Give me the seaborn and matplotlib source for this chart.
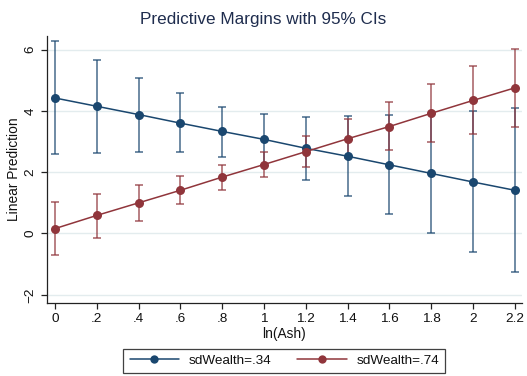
import numpy as np
import pandas as pd
import matplotlib
matplotlib.use("Agg")
import matplotlib.pyplot as plt
import seaborn as sns
from matplotlib.lines import Line2D

# ln(Ash) grid at which predictive margins were evaluated
ash = [0.0, 0.2, 0.4, 0.6, 0.8, 1.0, 1.2, 1.4, 1.6, 1.8, 2.0, 2.2]
ash_labels = ["0", ".2", ".4", ".6", ".8", "1", "1.2", "1.4", "1.6", "1.8", "2", "2.2"]

# sdWealth = .34
low_margin = [4.42, 4.15, 3.88, 3.60, 3.33, 3.07, 2.78, 2.52, 2.24, 1.96, 1.68, 1.41]
low_ci_lo = [2.58, 2.64, 2.67, 2.65, 2.51, 2.24, 1.76, 1.21, 0.62, 0.01, -0.62, -1.26]
low_ci_hi = [6.27, 5.67, 5.08, 4.57, 4.14, 3.90, 3.81, 3.82, 3.85, 3.91, 4.01, 4.09]

# sdWealth = .74
high_margin = [0.16, 0.59, 1.00, 1.41, 1.84, 2.25, 2.67, 3.09, 3.49, 3.92, 4.34, 4.75]
high_ci_lo = [-0.71, -0.14, 0.42, 0.96, 1.43, 1.84, 2.16, 2.46, 2.72, 2.99, 3.23, 3.48]
high_ci_hi = [1.03, 1.29, 1.58, 1.88, 2.24, 2.66, 3.17, 3.72, 4.29, 4.87, 5.45, 6.02]

groups = ["sdWealth=.34", "sdWealth=.74"]
y_ticks = [-2, 0, 2, 4, 6]

navy = "#1a476f"
maroon = "#90353b"
palette = {groups[0]: navy, groups[1]: maroon}

df = pd.DataFrame({
    "ash": ash * 2,
    "margin": low_margin + high_margin,
    "lo": low_ci_lo + high_ci_lo,
    "hi": low_ci_hi + high_ci_hi,
    "group": [groups[0]] * len(ash) + [groups[1]] * len(ash),
})

sns.set_theme(style="white")
plt.rcParams["font.family"] = ["Liberation Sans", "DejaVu Sans"]

fig = plt.figure(figsize=(5.27, 3.76), dpi=100)
ax = fig.add_axes([0.0886, 0.194, 0.902, 0.71])

# horizontal gridlines
ax.set_yticks(y_ticks)
ax.yaxis.grid(True, color="#e3ecee", linewidth=1.0, zorder=0)
ax.xaxis.grid(False)
ax.set_axisbelow(True)

# confidence interval caps
for g in groups:
    sub = df[df["group"] == g]
    ax.errorbar(sub["ash"], sub["margin"],
                yerr=[sub["margin"] - sub["lo"], sub["hi"] - sub["margin"]],
                fmt="none", ecolor=palette[g], elinewidth=1.1, capsize=3.0,
                capthick=1.1, alpha=0.8, zorder=2)

# connected margins
sns.lineplot(data=df, x="ash", y="margin", hue="group", palette=palette,
             marker="o", markersize=6.5, markeredgewidth=0, linewidth=1.1,
             legend=False, ax=ax, zorder=3)

ax.set_xlim(-0.04, 2.235)
ax.set_ylim(-2.27, 6.44)
ax.set_xticks(ash)
ax.set_xticklabels(ash_labels)
ax.set_yticklabels([f"{t}".replace("-", "\u2212") for t in y_ticks], rotation=90, va="center")

ax.tick_params(axis="both", which="major", direction="out", length=4.5, width=0.9,
               color="#222222", labelsize=9.7, labelcolor="#111111", pad=3,
               bottom=True, left=True)

for side in ["top", "right"]:
    ax.spines[side].set_visible(False)
for side in ["left", "bottom"]:
    ax.spines[side].set_color("#222222")
    ax.spines[side].set_linewidth(0.9)

ax.set_xlabel("ln(Ash)", fontsize=9.9, color="#111111", labelpad=1)
ax.set_ylabel("Linear Prediction", fontsize=9.9, color="#111111", labelpad=2)

fig.text(0.5, 0.948, "Predictive Margins with 95% CIs", fontsize=12.3,
         color="#1f2d4e", ha="center", va="center")

handles = [Line2D([0], [0], color=palette[g], linewidth=1.1, marker="o",
                  markersize=6, markeredgewidth=0) for g in groups]
leg = ax.legend(handles, groups, loc="upper center", bbox_to_anchor=(0.5, -0.145),
                ncol=2, frameon=True, fancybox=False, fontsize=9.7,
                handlelength=3.7, handletextpad=0.7, columnspacing=1.9,
                borderpad=0.45, edgecolor="#111111")
leg.get_frame().set_linewidth(0.9)
for txt in leg.get_texts():
    txt.set_color("#111111")

fig.savefig("out.png", dpi=100)
